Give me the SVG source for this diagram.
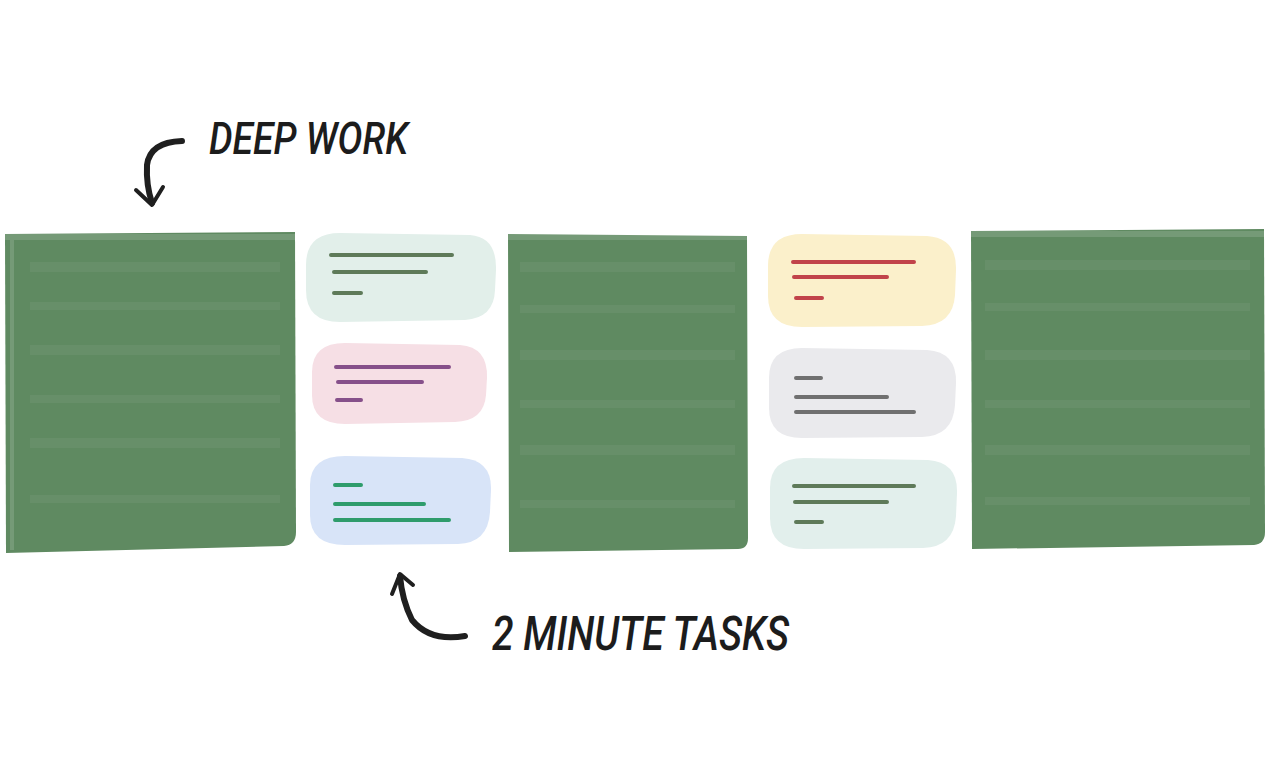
<svg xmlns="http://www.w3.org/2000/svg" width="1272" height="776" viewBox="0 0 1272 776">
<defs>
<style>
.block{fill:#5f8a61}
.streak{fill:#ffffff;opacity:0.05}
.edge{fill:#ffffff;opacity:0.14}
.card{stroke:none}
.ln{stroke-width:4;stroke-linecap:round;fill:none}
.lbl{font-family:Roboto,"Liberation Sans",Arial,sans-serif;font-weight:500;font-style:italic;fill:#1c1c1c}
.arrow{fill:none;stroke:#1f1f1f;stroke-linecap:round;stroke-linejoin:round}
</style>
</defs>
<rect width="1272" height="776" fill="#ffffff"/>

<g id="deep-work-1">
<path class="block" d="M5,234 L295,232 L296,532 Q296,545 284,546 L6,553 Z"/>
<rect class="edge" x="5" y="234" width="290" height="6"/>
<rect class="edge" x="10" y="240" width="4" height="310"/>
<rect class="streak" x="30" y="262" width="250" height="10"/>
<rect class="streak" x="30" y="302" width="250" height="8"/>
<rect class="streak" x="30" y="345" width="250" height="10"/>
<rect class="streak" x="30" y="395" width="250" height="8"/>
<rect class="streak" x="30" y="438" width="250" height="10"/>
<rect class="streak" x="30" y="495" width="250" height="8"/>
</g>

<g id="deep-work-2">
<path class="block" d="M508,234 L747,236 L748,538 Q748,549 738,549 L509,552 Z"/>
<rect class="edge" x="508" y="234" width="239" height="6"/>
<rect class="streak" x="520" y="262" width="215" height="10"/>
<rect class="streak" x="520" y="305" width="215" height="8"/>
<rect class="streak" x="520" y="350" width="215" height="10"/>
<rect class="streak" x="520" y="400" width="215" height="8"/>
<rect class="streak" x="520" y="445" width="215" height="10"/>
<rect class="streak" x="520" y="500" width="215" height="8"/>
</g>

<g id="deep-work-3">
<path class="block" d="M971,231 L1264,229 L1265,532 Q1265,544 1254,545 L972,549 Z"/>
<rect class="edge" x="971" y="231" width="293" height="6"/>
<rect class="streak" x="985" y="260" width="265" height="10"/>
<rect class="streak" x="985" y="303" width="265" height="8"/>
<rect class="streak" x="985" y="350" width="265" height="10"/>
<rect class="streak" x="985" y="400" width="265" height="8"/>
<rect class="streak" x="985" y="445" width="265" height="10"/>
<rect class="streak" x="985" y="497" width="265" height="8"/>
</g>

<g id="task-1">
<path class="card" fill="#e2efea" d="M340,233 L470,235 Q497,237 496,270 L495,290 Q494,318 465,320 L340,322 Q306,322 306,290 L306,265 Q306,233 340,233 Z"/>
<path class="ln" stroke="#5e7a59" d="M331,255 L452,255 M334,272 L426,272 M334,293 L361,293"/>
</g>
<g id="task-2">
<path class="card" fill="#f6dfe5" d="M345,343 L460,345 Q488,347 487,378 L486,395 Q484,421 455,422 L345,424 Q312,424 312,395 L312,372 Q312,343 345,343 Z"/>
<path class="ln" stroke="#86508a" d="M336,367 L449,367 M338,382 L422,382 M337,400 L361,400"/>
</g>
<g id="task-3">
<path class="card" fill="#d8e4f8" d="M345,456 L462,458 Q492,460 491,490 L490,512 Q488,543 458,544 L345,545 Q310,545 310,515 L310,485 Q310,456 345,456 Z"/>
<path class="ln" stroke="#2f9c6c" d="M335,485 L361,485 M335,504 L424,504 M335,520 L449,520"/>
</g>
<g id="task-4">
<path class="card" fill="#fbf0cb" d="M802,234 L927,236 Q957,238 956,270 L955,295 Q953,325 922,326 L802,327 Q768,327 768,296 L768,266 Q768,234 802,234 Z"/>
<path class="ln" stroke="#c1434a" d="M793,262 L914,262 M794,277 L887,277 M796,298 L822,298"/>
</g>
<g id="task-5">
<path class="card" fill="#eaeaed" d="M802,348 L927,350 Q957,352 956,383 L955,405 Q953,436 922,437 L802,438 Q769,438 769,408 L769,378 Q769,348 802,348 Z"/>
<path class="ln" stroke="#707070" d="M796,378 L821,378 M796,397 L887,397 M796,412 L914,412"/>
</g>
<g id="task-6">
<path class="card" fill="#e2efec" d="M804,458 L928,460 Q958,462 957,493 L956,516 Q954,547 923,548 L804,549 Q770,549 770,518 L770,488 Q770,458 804,458 Z"/>
<path class="ln" stroke="#5e7a59" d="M794,486 L914,486 M795,502 L887,502 M796,522 L822,522"/>
</g>

<g id="label-deep-work">
<text class="lbl" x="209" y="154" font-size="44" textLength="199" lengthAdjust="spacingAndGlyphs">DEEP WORK</text>
</g>
<g id="label-tasks">
<text class="lbl" x="492" y="650" font-size="48" textLength="297" lengthAdjust="spacingAndGlyphs">2 MINUTE TASKS</text>
</g>

<g id="connectors">
<path class="arrow" stroke-width="6" d="M182,141 Q150,142 147,165 Q146,185 152,203"/>
<path class="arrow" stroke-width="4" d="M136,190 L152,205 L163,187"/>
<path class="arrow" stroke-width="6" d="M465,636 Q430,642 412,620 Q402,600 400,576"/>
<path class="arrow" stroke-width="4" d="M392,594 L400,574 L413,585"/>
</g>
</svg>
